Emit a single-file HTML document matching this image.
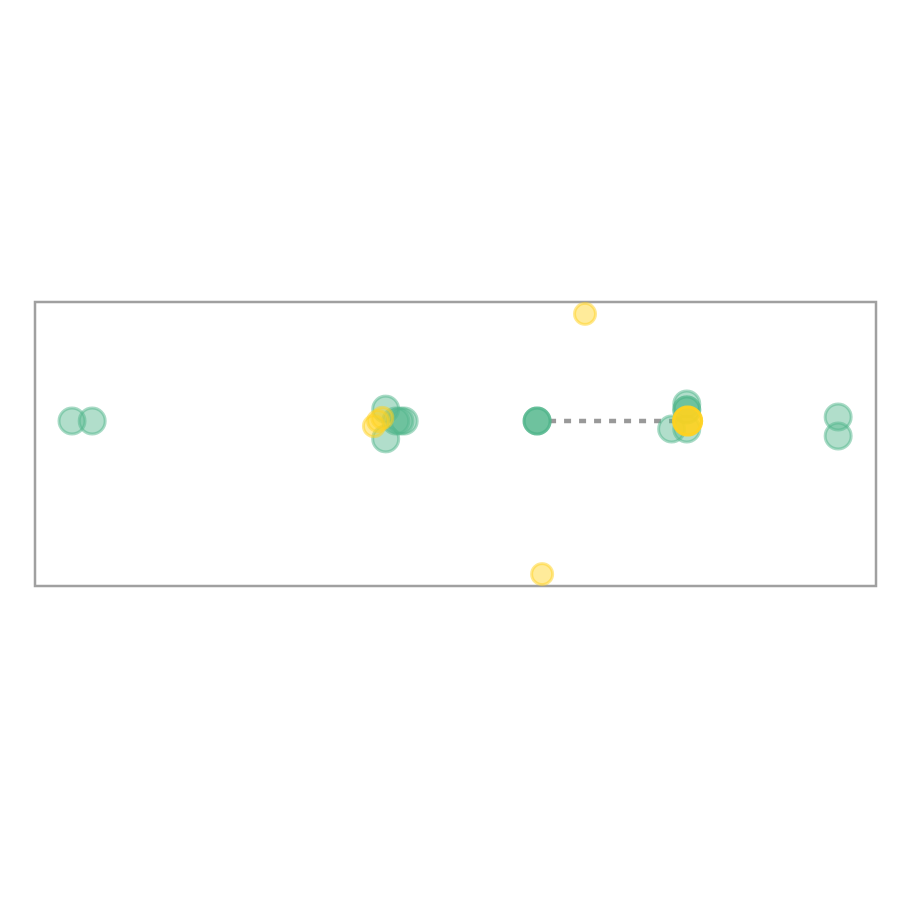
<!DOCTYPE html>
<html><head><meta charset="utf-8"><style>html,body{margin:0;padding:0;background:#fff}</style></head>
<body>
<svg id="chart" width="900" height="900" xmlns="http://www.w3.org/2000/svg">
<rect x="35" y="302" width="841" height="284" fill="none" stroke="#a0a0a0" stroke-width="2.5"/>
<g id="marks"></g>
</svg>
<script>
const greenX = [4.4, 6.8, 41.7, 41.7, 42.9, 43.4, 43.9, 59.7, 59.7, 59.7, 75.7, 77.5, 77.5, 77.5, 77.5, 95.5, 95.5];
const greenY = [58.1, 58.1, 62.3, 51.8, 58.1, 58.1, 58.1, 58.1, 58.1, 58.1, 55.3, 64.1, 62.0, 62.0, 55.3, 59.5, 52.8];
const yellowX = [65.4, 60.3, 40.8, 40.3, 41.3, 77.6, 77.6, 77.6, 77.6];
const yellowY = [95.8, 4.2, 58.1, 56.3, 59.2, 58.1, 58.1, 58.1, 58.1];
const yellowR = [10.5, 10.5, 10.5, 10.5, 10.5, 14, 14, 14, 14];
const linkX = [59.7, 77.6];
const linkY = [58.1, 58.1];

const NS = 'http://www.w3.org/2000/svg';
const xs = v => 35 + v / 100 * 841;
const ys = v => 586 - v / 100 * 284;
const g = document.getElementById('marks');

const ln = document.createElementNS(NS, 'line');
ln.setAttribute('x1', xs(linkX[0]) + 12); ln.setAttribute('x2', xs(linkX[1]) - 12);
ln.setAttribute('y1', ys(linkY[0])); ln.setAttribute('y2', ys(linkY[1]));
ln.setAttribute('stroke', '#999'); ln.setAttribute('stroke-width', '4.5');
ln.setAttribute('stroke-dasharray', '7 8');


g.appendChild(ln);

function dot(x, y, r, fill, stroke) {
  const c = document.createElementNS(NS, 'circle');
  c.setAttribute('cx', xs(x)); c.setAttribute('cy', ys(y)); c.setAttribute('r', r);
  c.setAttribute('fill', fill); c.setAttribute('fill-opacity', '0.45');
  c.setAttribute('stroke', stroke); c.setAttribute('stroke-opacity', '0.5'); c.setAttribute('stroke-width', '3');
  return c;
}
greenX.forEach((x, i) => {
  const c = dot(x, greenY[i], 13, '#52b58b', '#52b58b');
  
  
  g.appendChild(c);
});
yellowX.forEach((x, i) => {
  const c = dot(x, yellowY[i], yellowR[i], '#ffd21f', '#ffd21f');
  
  
  g.appendChild(c);
});
</script>
</body></html>
